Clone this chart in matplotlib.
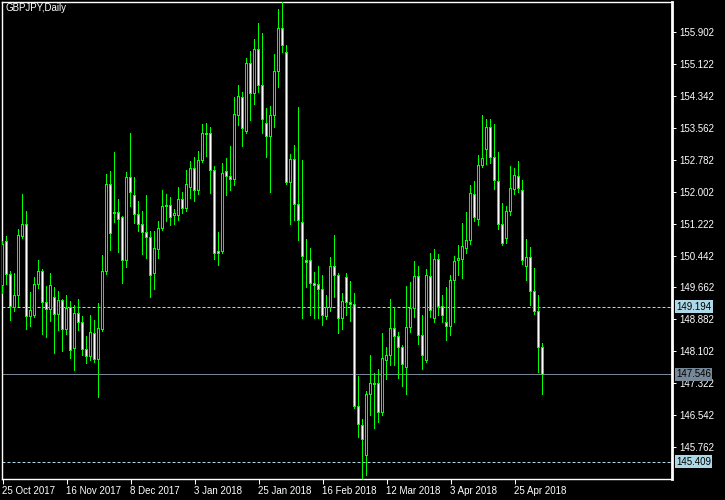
import matplotlib
matplotlib.use("Agg")
import matplotlib.pyplot as plt
from matplotlib.transforms import blended_transform_factory, offset_copy

# ---- chart data (GBPJPY daily) ----
SYMBOL = "GBPJPY,Daily"

opens = [
    149.721, 150.778, 149.982, 149.177, 149.470, 150.899, 151.202, 148.947, 148.972, 149.738,
    150.063, 149.299, 149.128, 149.421, 149.006, 149.348, 148.640, 149.177, 148.167, 149.030,
    148.811, 148.142, 147.972, 148.543, 147.898, 148.640, 150.055, 152.178, 151.502, 151.495,
    151.373, 150.314, 152.349, 151.910, 151.446, 151.202, 151.007, 150.885, 150.007, 150.592,
    151.105, 151.632, 151.666, 151.422, 151.422, 151.812, 151.592, 152.105, 152.569, 152.032,
    152.764, 153.398, 153.422, 152.520, 150.534, 150.534, 152.495, 152.373, 152.290, 153.862,
    154.301, 153.462, 155.130, 154.399, 155.472, 154.594, 153.667, 153.349, 153.862, 154.935,
    155.984, 155.399, 152.217, 152.788, 151.690, 151.251, 150.324, 150.324, 149.762, 149.738,
    149.616, 148.957, 149.177, 150.177, 149.958, 148.908, 149.909, 149.299, 149.240, 146.752,
    146.288, 145.556, 147.054, 147.298, 147.322, 146.605, 147.884, 147.996, 148.664, 148.469,
    148.201, 147.713, 148.689, 149.152, 149.933, 148.494, 147.884, 149.933, 148.908, 150.348,
    149.192, 148.811, 148.703, 149.836, 150.324, 150.348, 150.617, 150.812, 151.934, 151.324,
    152.642, 153.032, 153.569, 152.837, 152.251, 151.202, 150.861, 151.519, 152.056, 152.373,
    152.032, 150.177, 150.397, 149.567, 149.079, 148.201,
]
highs = [
    150.778, 150.917, 150.046, 150.007, 151.080, 151.941, 151.527, 149.550, 149.916, 150.331,
    150.111, 149.697, 150.014, 149.672, 149.575, 149.379, 149.470, 149.323, 149.233, 149.372,
    148.965, 148.477, 148.989, 148.860, 149.274, 150.446, 152.429, 152.503, 152.966, 151.819,
    151.405, 152.478, 153.430, 152.356, 151.763, 151.519, 151.917, 151.031, 151.031, 151.283,
    152.039, 151.941, 151.868, 151.575, 152.105, 151.983, 152.527, 152.747, 152.844, 152.991,
    153.649, 153.674, 153.576, 152.625, 151.014, 152.691, 152.820, 153.113, 154.308, 154.601,
    154.430, 155.260, 155.431, 155.723, 156.114, 155.870, 154.032, 154.081, 155.350, 156.455,
    156.609, 155.570, 152.910, 153.130, 154.057, 152.764, 150.843, 150.624, 150.031, 150.185,
    149.958, 149.470, 150.397, 150.941, 150.007, 149.519, 150.014, 149.811, 149.519, 147.501,
    146.452, 147.127, 148.006, 147.567, 147.664, 148.542, 148.201, 149.372, 149.177, 148.567,
    148.250, 149.697, 149.787, 150.299, 150.177, 148.982, 150.104, 150.494, 150.592, 150.477,
    149.470, 149.672, 149.965, 150.429, 150.690, 151.227, 151.495, 152.154, 152.251, 152.886,
    153.869, 153.771, 153.771, 153.649, 152.959, 151.715, 151.641, 152.617, 152.569, 152.739,
    152.276, 150.836, 150.641, 150.128, 149.470, 148.299,
]
lows = [
    149.518, 149.745, 148.867, 149.070, 149.192, 150.860, 148.648, 148.703, 148.940, 149.640,
    148.525, 148.435, 148.825, 148.045, 148.606, 148.094, 148.508, 147.923, 147.630, 148.606,
    147.996, 147.801, 147.874, 147.825, 146.971, 148.581, 149.972, 150.558, 151.241, 150.526,
    149.753, 150.143, 151.632, 151.227, 151.021, 150.460, 150.363, 149.411, 149.606, 150.363,
    151.046, 151.265, 151.168, 151.192, 151.300, 151.470, 151.519, 151.837, 151.753, 151.934,
    152.705, 152.869, 151.949, 150.355, 150.192, 150.502, 151.917, 152.039, 152.144, 153.608,
    153.096, 153.413, 153.730, 154.120, 154.413, 153.413, 152.827, 151.973, 153.559, 154.535,
    155.399, 152.185, 151.192, 151.307, 150.802, 148.908, 149.665, 148.982, 148.908, 148.908,
    148.745, 148.884, 149.079, 149.421, 148.533, 148.630, 148.982, 148.835, 146.703, 145.995,
    144.987, 145.068, 146.532, 146.215, 146.361, 146.549, 147.410, 147.752, 147.752, 147.435,
    147.240, 147.044, 148.567, 148.933, 148.274, 147.654, 147.842, 148.933, 148.818, 148.989,
    148.801, 148.362, 148.484, 148.801, 149.948, 149.875, 150.485, 150.714, 151.275, 151.168,
    152.583, 152.666, 152.690, 152.056, 151.080, 150.690, 150.739, 151.422, 151.934, 151.983,
    150.216, 149.826, 149.226, 148.996, 147.581, 147.044,
]
closes = [
    150.721, 149.982, 149.192, 149.470, 150.934, 151.202, 148.947, 149.104, 149.738, 150.063,
    149.289, 149.128, 149.714, 149.006, 149.348, 148.640, 149.152, 148.128, 149.030, 148.811,
    148.142, 147.972, 148.567, 147.898, 148.664, 150.055, 152.185, 150.982, 151.461, 151.324,
    150.314, 152.349, 151.983, 151.446, 151.202, 151.007, 150.885, 149.958, 150.617, 151.105,
    151.641, 151.666, 151.373, 151.470, 151.812, 151.592, 152.178, 152.569, 152.032, 152.764,
    153.422, 153.430, 152.520, 150.495, 150.495, 152.446, 152.373, 152.290, 153.886, 154.325,
    153.545, 155.130, 154.399, 155.472, 154.594, 153.764, 153.349, 153.862, 154.935, 155.984,
    155.570, 152.217, 152.788, 151.690, 151.300, 150.421, 150.275, 149.762, 149.714, 149.616,
    148.982, 149.177, 150.177, 149.958, 148.908, 149.323, 149.299, 149.250, 146.752, 146.322,
    145.946, 147.054, 147.322, 147.322, 146.605, 147.932, 148.006, 148.664, 148.469, 148.201,
    147.786, 148.689, 149.152, 149.933, 148.494, 148.006, 149.958, 149.104, 150.348, 149.192,
    148.972, 148.703, 149.836, 150.299, 150.372, 150.665, 150.812, 151.958, 151.373, 152.642,
    152.813, 153.569, 152.837, 152.276, 151.202, 150.739, 151.519, 152.080, 152.398, 152.080,
    150.314, 150.397, 149.567, 149.079, 148.201, 147.546,
]

# date labels shown every 16 bars
date_labels = ["25 Oct 2017", "16 Nov 2017", "8 Dec 2017", "3 Jan 2018", "25 Jan 2018",
               "16 Feb 2018", "12 Mar 2018", "3 Apr 2018", "25 Apr 2018"]
LABEL_STEP = 16

price_ticks = [145.762, 146.542, 147.322, 148.102, 148.882, 149.662, 150.442,
               151.222, 152.002, 152.782, 153.562, 154.342, 155.122, 155.902]

level_lines = [149.194, 145.409]   # dashed horizontal levels
last_price = 147.546               # bid line

# ---- styling ----
BG = "black"
FG = "white"
CANDLE = "#00FF00"
LEVEL_COLOR = "#ADD8E6"
BID_COLOR = "#778899"
FONT = "Liberation Sans"

W, H = 725, 500
AX_H = 476.7
YMIN, YMAX = 144.997, 156.627
fig = plt.figure(figsize=(W / 100, H / 100), dpi=100, facecolor=BG)
ax = fig.add_axes([2 / W, (H - 478.7) / H, 670 / W, AX_H / H], facecolor=BG)

n = len(closes)
xs = list(range(n))
one_px = (YMAX - YMIN) / AX_H   # price span of one pixel, for the body outline

# wicks (no snapping, so they sit in the middle of the 3px body)
ax.vlines(xs, lows, highs, color=CANDLE, linewidth=0.72, zorder=3,
          antialiased=False, snap=False)

# bodies: green outer box, then a 1px interior (black for up bars, white for down bars)
bottoms = [min(o, c) for o, c in zip(opens, closes)]
heights = [abs(c - o) for o, c in zip(opens, closes)]
ax.bar(xs, [h + one_px for h in heights], bottom=[b - one_px / 2 for b in bottoms],
       width=0.75, color=CANDLE, linewidth=0, zorder=4, antialiased=False)
inner_h = [max(h - one_px, 0) for h in heights]
fills = [BG if c >= o else FG for o, c in zip(opens, closes)]
ax.bar(xs, inner_h, bottom=[b + one_px / 2 for b in bottoms], width=0.25,
       color=fills, linewidth=0, zorder=5, antialiased=False)

# horizontal levels
for lv in level_lines:
    ax.axhline(lv, color=LEVEL_COLOR, linewidth=0.72, dashes=(3, 2), zorder=2)
ax.axhline(last_price, color=BID_COLOR, linewidth=0.72, zorder=2)

ax.set_xlim(-0.125, 167.375)
ax.set_ylim(YMIN, YMAX)

# axes frame
for side in ["left", "right", "top", "bottom"]:
    ax.spines[side].set_color(FG)
    ax.spines[side].set_linewidth(1)
ax.spines["right"].set_linewidth(2)

# x ticks
ax.set_xticks([i * LABEL_STEP for i in range(len(date_labels))])
ax.set_xticklabels(date_labels, ha="left", fontsize=7, family=FONT, color=FG)
ax.tick_params(axis="x", direction="out", length=3.5, width=0.75, color=FG, pad=2)

# y ticks on the right
ax.yaxis.tick_right()
ax.set_yticks(price_ticks)
ax.set_yticklabels([f"{p:.3f}" for p in price_ticks], fontsize=7, family=FONT, color=FG)
ax.tick_params(axis="y", direction="out", length=3, width=0.75, color=FG, pad=2)

# price tags on the axis
trans = offset_copy(blended_transform_factory(ax.transAxes, ax.transData),
                    fig=fig, x=4, y=0, units="dots")
for lv in level_lines:
    ax.text(1.0, lv, f"{lv:.3f}", transform=trans, va="center", ha="left",
            fontsize=7, family=FONT, color="black", clip_on=False, zorder=10,
            bbox=dict(boxstyle="square,pad=0.15", facecolor=LEVEL_COLOR, edgecolor="none"))
ax.text(1.0, last_price, f"{last_price:.3f}", transform=trans, va="center", ha="left",
        fontsize=7, family=FONT, color="black", clip_on=False, zorder=10,
        bbox=dict(boxstyle="square,pad=0.15", facecolor=BID_COLOR, edgecolor="none"))

fig.text(5 / W, 1 - 3 / H, SYMBOL, ha="left", va="top", fontsize=7, family=FONT, color=FG)

fig.savefig("out.png", dpi=100, facecolor=BG)
